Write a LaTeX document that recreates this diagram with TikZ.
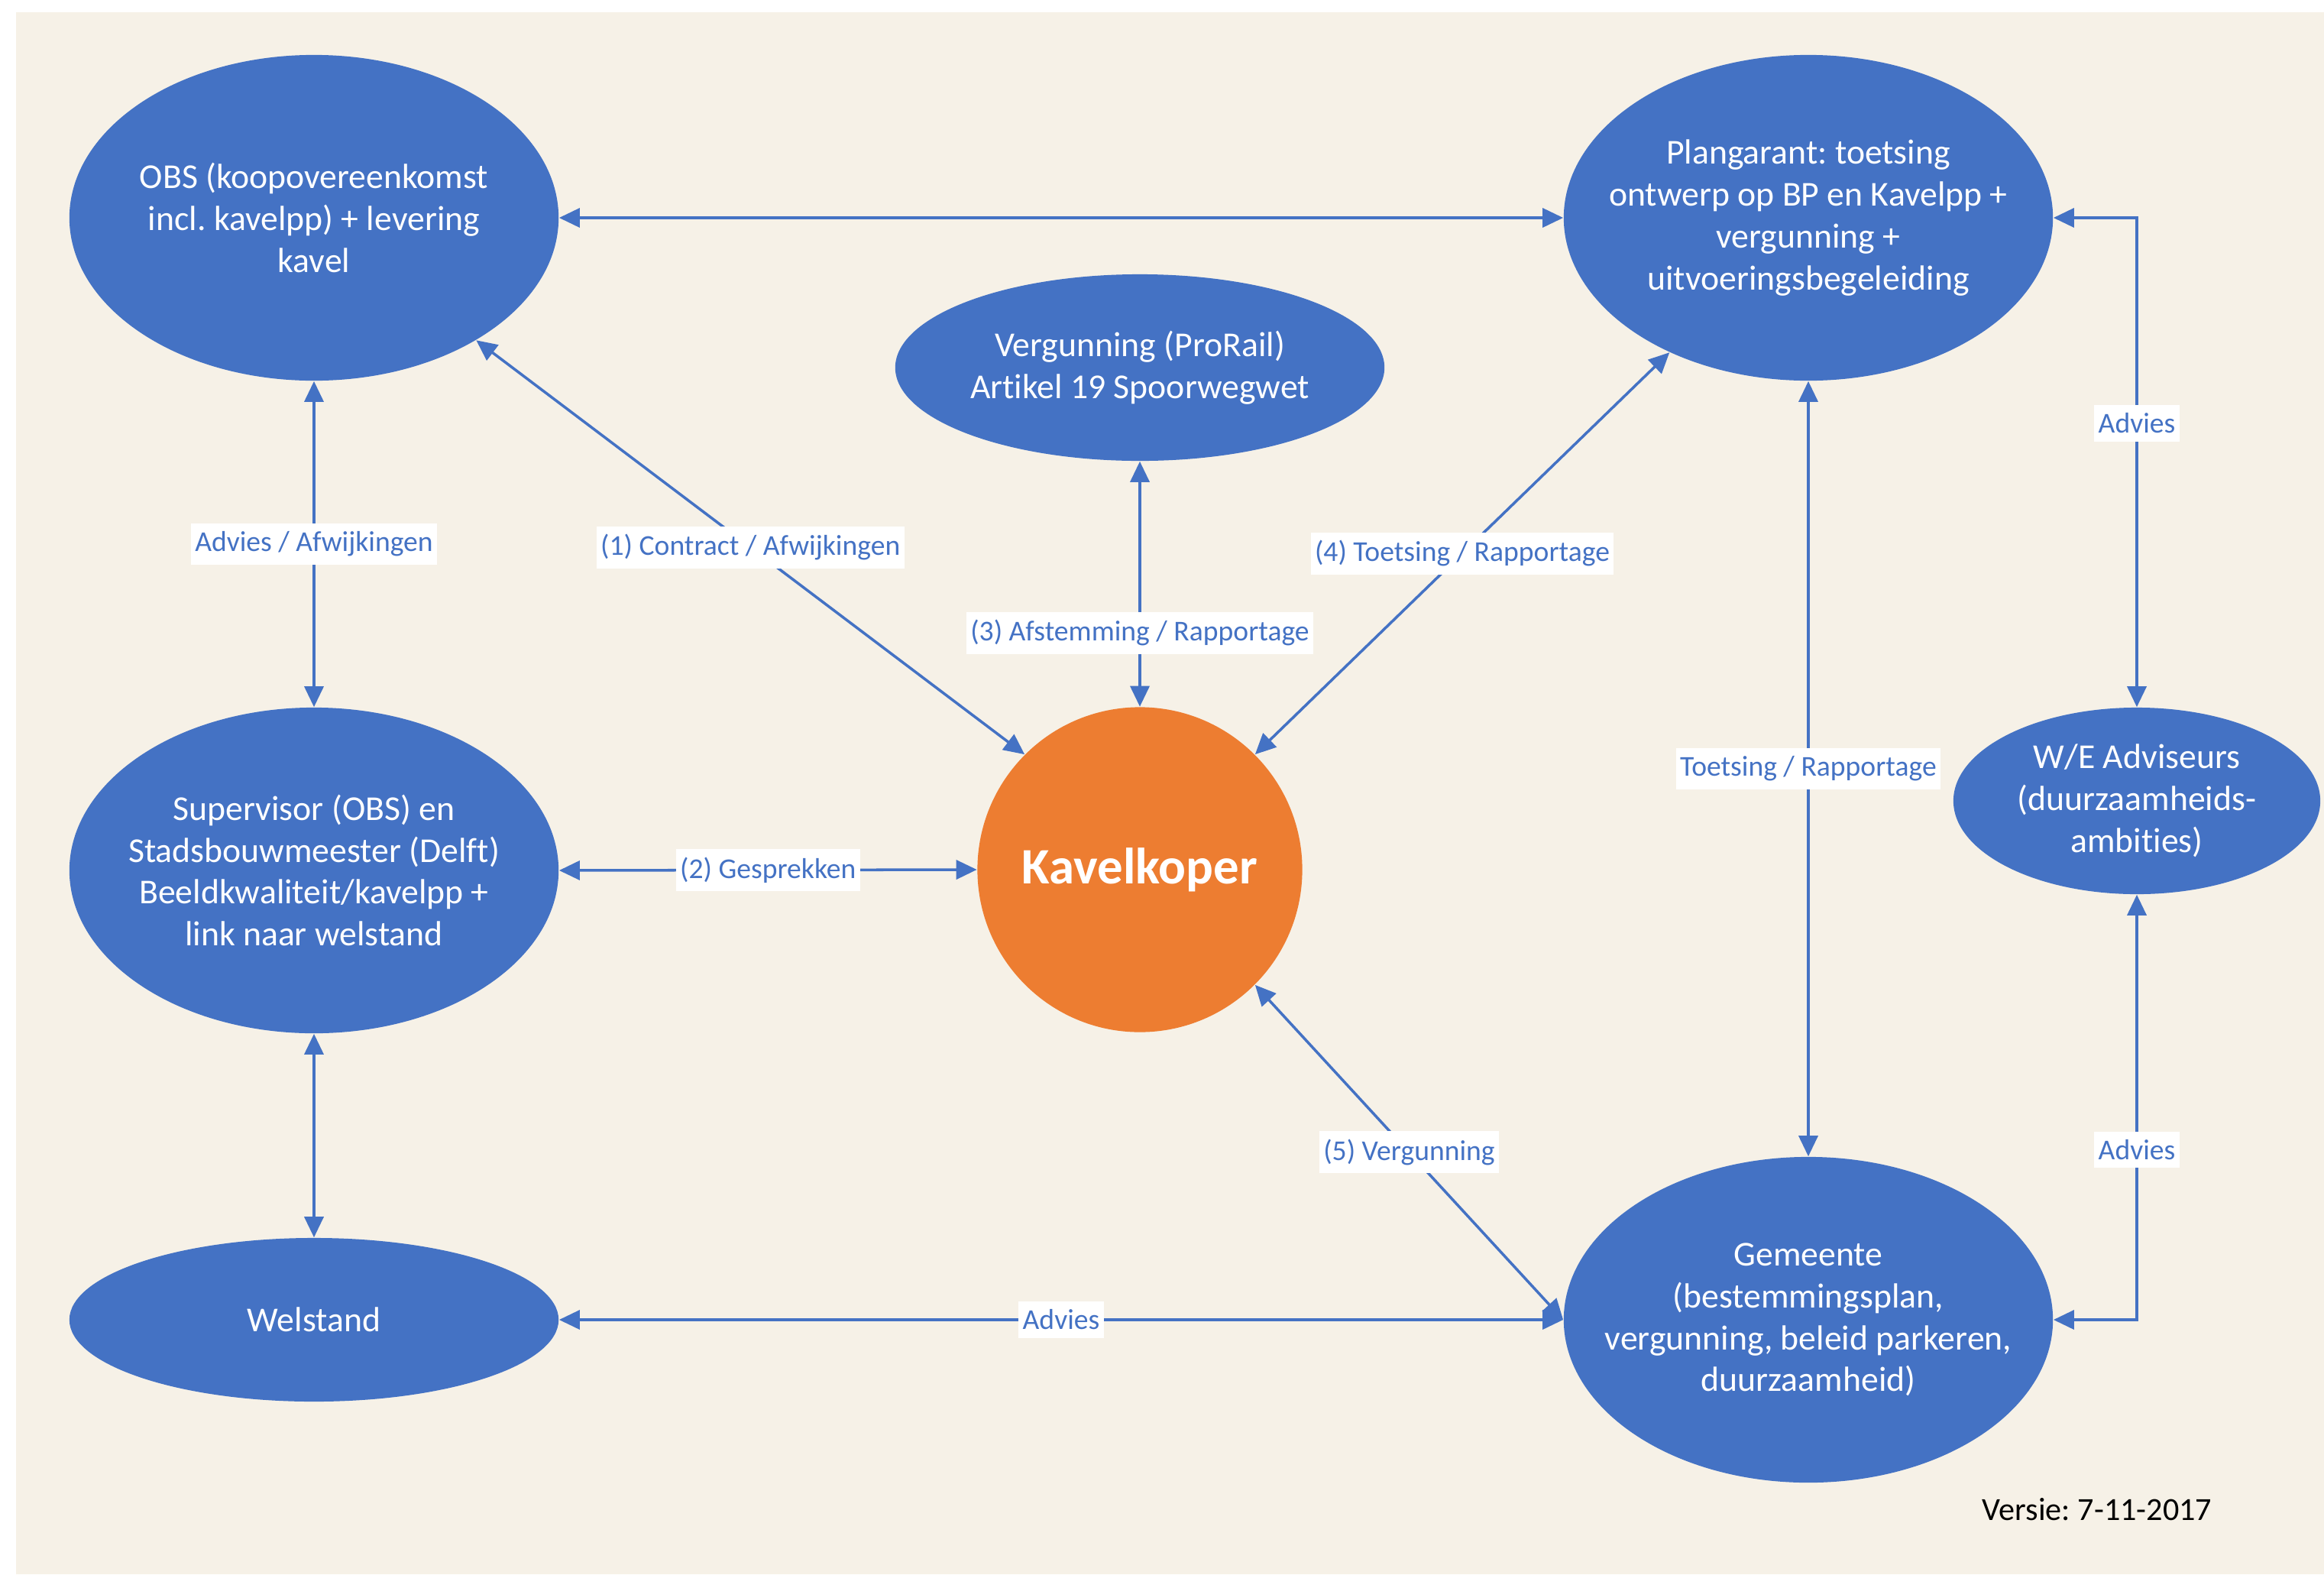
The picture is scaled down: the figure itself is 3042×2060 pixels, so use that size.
\documentclass[tikz,border=0pt]{standalone}
\usepackage{fontspec}
\setmainfont{Carlito}[Ligatures={NoCommon}]
\frenchspacing
\usetikzlibrary{shapes.geometric,arrows.meta}
\definecolor{bgbeige}{RGB}{246,241,231}
\definecolor{nodeblue}{RGB}{68,114,196}
\definecolor{nodeorange}{RGB}{237,125,49}
\tikzset{
  ell/.style={ellipse,fill=nodeblue,draw=none,inner sep=0pt},
  ntext/.style={text=white,align=center,font=\fontsize{13}{15.6}\selectfont,inner sep=0pt},
  conn/.style={draw=nodeblue,line width=1pt,{Triangle[length=0.27cm,width=0.25cm]}-{Triangle[length=0.27cm,width=0.25cm]}},
  elabel/.style={fill=white,text=nodeblue,font=\fontsize{10.7}{12}\selectfont,inner xsep=1.5pt,inner ysep=3pt}
}
\begin{document}
\begin{tikzpicture}[x=0.01cm,y=-0.01cm]
\useasboundingbox (0,0) rectangle (3042,2060);
\fill[white] (0,0) rectangle (3042,2060);
\fill[bgbeige] (21,16) rectangle (3042,2060);

% nodes
\node[ell,minimum width=6.4cm,minimum height=4.26cm] (obs) at (411,285) {};
\node[ntext] (obst) at (obs) {OBS (koopovereenkomst\\incl. kavelpp) + levering\\kavel};

\node[ell,minimum width=6.4cm,minimum height=4.26cm] (plan) at (2367,285) {};
\node[ntext] (plant) at (plan) {Plangarant: toetsing\\ontwerp op BP en Kavelpp +\\vergunning +\\uitvoeringsbegeleiding};

\node[ell,minimum width=6.4cm,minimum height=2.44cm] (verg) at (1492,481) {};
\node[ntext] (vergt) at (verg) {Vergunning (ProRail)\\Artikel 19 Spoorwegwet};

\node[ell,minimum width=6.4cm,minimum height=4.26cm] (sup) at (411,1139) {};
\node[ntext] (supt) at (sup) {Supervisor (OBS) en\\Stadsbouwmeester (Delft)\\Beeldkwaliteit/kavelpp +\\link naar welstand};

\node[circle,fill=nodeorange,draw=none,inner sep=0pt,minimum size=4.25cm] (kav) at (1492,1138) {};
\node[text=white,font=\fontsize{19}{22}\selectfont\bfseries,inner sep=0pt] (kavt) at (kav) {Kavelkoper};

\node[ell,minimum width=4.8cm,minimum height=2.44cm] (we) at (2797,1048) {};
\node[ntext] (wet) at (we) {W/E Adviseurs\\(duurzaamheids-\\ambities)};

\node[ell,minimum width=6.4cm,minimum height=2.14cm] (wel) at (411,1727) {};
\node[ntext] (welt) at (wel) {Welstand};

\node[ell,minimum width=6.4cm,minimum height=4.26cm] (gem) at (2367,1727) {};
\node[ntext] (gemt) at (gem) {Gemeente\\(bestemmingsplan,\\vergunning, beleid parkeren,\\duurzaamheid)};

\node[text=black,font=\fontsize{12}{14}\selectfont,inner sep=0pt] (versie) at (2745,1975) {Versie: 7-11-2017};

% connectors
\draw[conn] (obs.east) -- (plan.west);
\draw[conn] (obs.south) -- node[elabel] {Advies / Afwijkingen} (sup.north);
\draw[conn] (obs) -- node[elabel,pos=0.5] {(1) Contract / Afwijkingen} (kav.north west);
\draw[conn] (verg.south) -- node[elabel,pos=0.7] {(3) Afstemming / Rapportage} (kav.north);
\draw[conn] (kav.north east) -- node[elabel,pos=0.5] {(4) Toetsing / Rapportage} (plan);
\draw[conn] (sup.east) -- node[elabel] {(2) Gesprekken} (kav.west);
\draw[conn] (sup.south) -- (wel.north);
\draw[conn] (wel.east) -- node[elabel] {Advies} (gem.west);
\draw[conn] (kav.south east) -- node[elabel] {(5) Vergunning} (gem.west);
\draw[conn] (plan.south) -- node[elabel] {Toetsing / Rapportage} (gem.north);
\draw[conn] (plan.east) -| node[elabel,pos=0.71] {Advies} (we.north);
\draw[conn] (we.south) |- node[elabel,pos=0.30] {Advies} (gem.east);
\end{tikzpicture}
\end{document}
